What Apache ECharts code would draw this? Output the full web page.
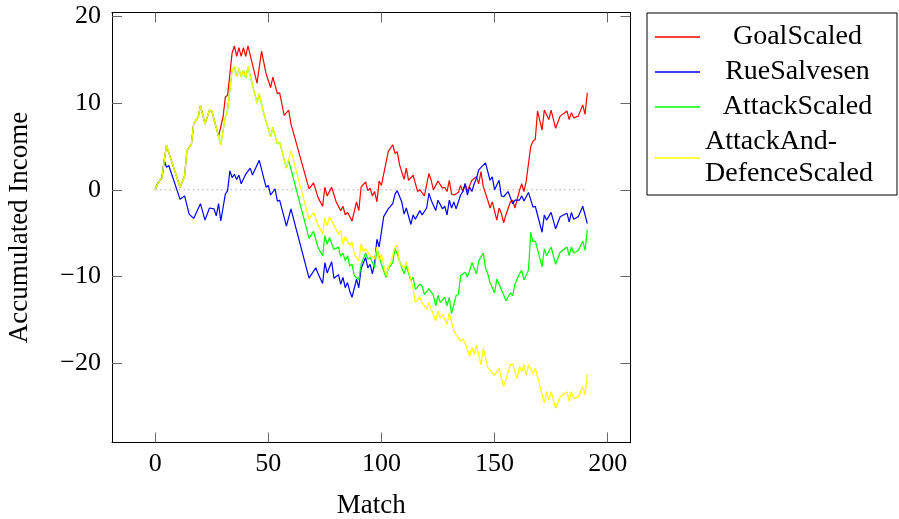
<!DOCTYPE html>
<html><head><meta charset="utf-8">
<script src="https://cdn.jsdelivr.net/npm/echarts@6/dist/echarts.min.js"></script>
<style>html,body{margin:0;padding:0;background:#fff}#c{width:899px;height:519px}</style>
</head><body><div id="c"></div>
<script>
// ---- data (match, accumulated income) ----
const seriesNames = ['GoalScaled', 'RueSalvesen', 'AttackScaled', 'AttackAndDefenceScaled'];
const seriesColors = ['#ff0000', '#0000ff', '#00ff00', '#ffff00'];

const goalScaled = [[0,0],[1,0.7],[3,1.4],[4,3.4],[5,5.1],[11,0.3],[13,1.6],[14,4.5],[16,5.3],[17,7.6],[19,8.4],[20,9.7],[22,7.6],[24,9.2],[25,9.1],[28,6.2],[30,8.4],[31,10.7],[32,10.9],[34,15.8],[35,16.6],[36,15.4],[37,16.4],[38,15.4],[39,16.4],[40,15.4],[41,16.6],[45,12.3],[47,16.0],[49,13.4],[51,11.8],[52,13.0],[54,11.1],[55,11.2],[57,8.6],[59,9.2],[60,7.6],[68,0.1],[70,0.8],[72,-0.9],[74,-1.9],[75,0.3],[76,-0.7],[78,0.3],[80,-1.4],[82,-2.4],[83,-1.9],[84,-2.9],[85,-2.6],[87,-3.6],[89,-1.4],[90,-2.4],[91,0.3],[93,0.9],[94,-0.1],[95,0.2],[96,-0.7],[97,-0.2],[98,-1.4],[99,1.0],[100,0.5],[102,3.1],[103,4.4],[105,5.2],[106,4.2],[107,4.4],[108,2.9],[110,1.2],[111,2.5],[112,1.1],[114,1.7],[116,-0.2],[117,0],[119,-0.7],[121,1.9],[122,1.1],[123,0],[125,1.0],[127,0.2],[128,0.3],[129,-0.2],[130,1.1],[131,-0.5],[132,-0.6],[134,-0.3],[135,0.5],[136,-0.2],[137,0.7],[138,-0.2],[139,0.5],[140,1.1],[142,1.5],[143,0.7],[144,2.1],[145,0.4],[147,-1.2],[148,-2.1],[149,-1.4],[151,-3.5],[152,-2.1],[153,-2.7],[154,-3.8],[155,-2.9],[157,-1.4],[158,-1.2],[159,-2.1],[161,-0.1],[162,0.7],[163,-0.2],[164,1.0],[166,5.0],[167,5.6],[168,5.8],[169,9.1],[171,6.9],[172,9.2],[174,8.1],[175,9.2],[177,7.1],[179,8.5],[182,9.1],[183,8.1],[184,8.9],[185,8.3],[187,8.5],[189,9.8],[190,8.7],[191,11.2]];

const rueSalvesen = [[0,0],[1,0.7],[3,1.4],[4,3.4],[5,2.6],[6,2.8],[11,-1.1],[13,-0.7],[15,-2.8],[17,-3.3],[20,-1.6],[22,-3.5],[24,-2.1],[26,-2.2],[27,-3.0],[28,-1.6],[29,-3.6],[31,-0.5],[32,-0.1],[33,2.2],[34,1.4],[35,1.8],[36,1.2],[37,1.7],[38,0.7],[40,1.8],[42,2.5],[43,1.7],[46,3.4],[49,0.3],[50,0.5],[51,-0.6],[53,0.1],[54,-1.3],[55,-1.2],[58,-4.2],[60,-2.2],[68,-10.2],[71,-9.0],[72,-9.7],[74,-10.8],[75,-8.4],[76,-9.6],[78,-8.3],[79,-10.2],[81,-9.8],[82,-10.9],[83,-10.1],[84,-11.3],[85,-10.7],[86,-11.7],[87,-12.4],[89,-10.3],[90,-11.3],[91,-9.1],[93,-7.8],[94,-9.0],[95,-8.6],[96,-9.7],[97,-8.4],[98,-5.7],[99,-6.6],[101,-3.1],[103,-2.2],[105,-1.6],[106,-0.5],[107,-0.1],[109,-1.4],[110,-2.8],[111,-2.1],[113,-4.0],[114,-2.9],[115,-3.4],[117,-2.4],[118,-2.9],[120,-2.1],[121,-0.4],[122,-1.2],[124,-2.4],[125,-1.2],[127,-2.2],[128,-1.9],[129,-2.9],[130,-1.2],[131,-2.1],[132,-1.4],[133,-2.2],[135,-0.6],[136,-0.2],[137,0.7],[138,-0.6],[139,0.3],[140,-0.2],[141,0.7],[142,1.3],[143,2.3],[146,3.1],[148,1.1],[149,1.5],[150,0],[152,1.1],[153,-0.7],[154,-0.8],[156,-0.2],[158,-1.6],[159,-1.2],[161,-1.2],[162,-0.7],[163,-1.3],[165,-0.3],[167,-2.0],[168,-1.9],[171,-4.9],[172,-2.9],[173,-3.5],[175,-2.6],[177,-4.5],[179,-3.1],[182,-2.7],[183,-3.7],[184,-2.6],[185,-3.4],[187,-3.1],[189,-1.9],[191,-3.9]];

const attackScaled = [[0,0],[1,0.7],[3,1.4],[4,3.4],[5,5.1],[11,0.3],[13,1.6],[14,4.5],[16,5.3],[17,7.6],[19,8.4],[20,9.7],[22,7.6],[24,9.2],[25,9.1],[29,5.2],[31,8.4],[32,9.2],[34,13.8],[35,14.2],[36,13.1],[37,14.0],[38,13.0],[39,13.8],[40,12.9],[41,14.2],[45,10.0],[46,11.1],[48,8.8],[51,6.1],[52,7.2],[54,5.3],[55,5.5],[58,2.5],[59,3.4],[68,-5.6],[70,-4.8],[72,-6.7],[74,-7.6],[75,-5.3],[76,-6.3],[77,-5.5],[79,-6.9],[81,-6.6],[82,-7.7],[83,-7.3],[84,-8.2],[85,-7.6],[86,-8.8],[87,-8.6],[88,-9.9],[90,-10.4],[91,-8.6],[93,-7.3],[94,-8.0],[95,-7.8],[96,-8.4],[97,-9.0],[98,-6.8],[100,-8.6],[102,-10.1],[103,-9.1],[105,-8.4],[106,-6.8],[107,-7.4],[109,-9.0],[110,-9.7],[111,-8.8],[113,-10.5],[114,-10.1],[115,-11.5],[117,-10.9],[118,-11.1],[119,-12.1],[121,-11.4],[123,-12.2],[124,-13.4],[125,-12.2],[126,-13.0],[128,-12.4],[129,-13.4],[130,-12.4],[131,-14.3],[133,-12.2],[134,-12.1],[135,-9.9],[137,-9.5],[138,-10.1],[139,-9.3],[140,-8.4],[142,-9.7],[143,-8.2],[145,-7.3],[146,-9.0],[147,-9.7],[148,-10.7],[150,-11.9],[151,-10.3],[153,-11.5],[154,-12.1],[155,-12.8],[157,-11.9],[158,-12.2],[159,-10.9],[161,-9.7],[162,-9.3],[163,-10.4],[165,-9.3],[166,-4.9],[167,-6.0],[168,-5.9],[171,-8.9],[172,-6.8],[173,-7.6],[175,-6.6],[177,-8.6],[179,-7.2],[182,-6.6],[183,-7.6],[184,-6.6],[185,-7.3],[187,-7.0],[189,-5.9],[190,-7.0],[191,-4.6]];

const attackAndDefenceScaled = [[0,0],[1,0.7],[3,1.4],[4,3.4],[5,5.1],[11,0.3],[13,1.6],[14,4.5],[16,5.3],[17,7.6],[19,8.4],[20,9.7],[22,7.6],[24,9.2],[25,9.1],[29,5.2],[31,8.4],[32,9.2],[34,13.8],[35,14.2],[36,13.1],[37,14.0],[38,13.0],[39,13.8],[40,12.9],[41,14.2],[45,10.0],[46,11.1],[48,8.8],[51,6.1],[52,7.2],[54,5.3],[55,5.5],[58,2.5],[59,3.5],[60,4.5],[68,-3.4],[70,-2.6],[72,-4.1],[74,-5.1],[75,-3.2],[76,-4.2],[77,-3.1],[81,-5.1],[82,-4.7],[83,-6.3],[84,-5.4],[85,-6.0],[86,-6.4],[87,-6.0],[88,-7.4],[90,-8.2],[91,-6.2],[92,-7.1],[93,-6.8],[95,-7.6],[96,-7.7],[97,-8.0],[98,-6.6],[99,-8.2],[100,-7.4],[102,-9.9],[103,-9.0],[104,-8.5],[106,-6.6],[107,-6.4],[108,-8.4],[110,-9.1],[111,-8.3],[113,-10.4],[114,-11.5],[115,-13.0],[117,-12.4],[118,-13.1],[119,-13.4],[120,-13.8],[121,-13.0],[122,-13.8],[124,-15.1],[125,-14.0],[126,-14.8],[127,-14.4],[129,-15.5],[130,-14.2],[132,-16.3],[133,-16.7],[135,-17.5],[136,-17.2],[137,-17.7],[139,-19.2],[140,-18.2],[141,-19.0],[142,-17.9],[144,-20.2],[145,-18.3],[147,-20.5],[148,-20.8],[150,-21.4],[152,-20.6],[154,-22.7],[155,-21.9],[157,-20.2],[158,-20.1],[160,-21.8],[161,-20.4],[162,-21.0],[163,-20.2],[164,-21.4],[165,-20.2],[167,-21.2],[168,-20.6],[172,-24.6],[173,-23.3],[174,-24.3],[175,-23.3],[177,-25.2],[179,-23.9],[182,-23.3],[183,-24.4],[184,-23.3],[185,-24.1],[187,-23.9],[189,-22.7],[190,-23.7],[191,-21.3]];

const zeroLine = [[0,0],[191,0]];
const xTicks = [0, 50, 100, 150, 200];
const yTicks = [-20, -10, 0, 10, 20];
const xRange = [-19.1, 210.1];
const yRange = [-29.16, 20.46];

// ---- chart ----
const FONT = 'Liberation Serif';
const fmtY = v => (v < 0 ? '\u2212' + Math.abs(v) : String(v));
const chart = echarts.init(document.getElementById('c'), null, {renderer: 'canvas'});

const axisLineStyle = {show: true, onZero: false, lineStyle: {color: '#000', width: 1}};
const tickStyle = (vals) => ({show: true, inside: true, length: 10, customValues: vals, lineStyle: {color: '#666', width: 1}});

const allData = [goalScaled, rueSalvesen, attackScaled, attackAndDefenceScaled];
const lineSeries = seriesNames.map((n, i) => ({
  name: n, type: 'line', data: allData[i], symbol: 'none', showSymbol: false,
  xAxisIndex: 0, yAxisIndex: 0, z: 3 + i,
  lineStyle: {color: seriesColors[i], width: 1.2}, itemStyle: {color: seriesColors[i]},
  emphasis: {disabled: true}
}));

chart.setOption({
  animation: false,
  backgroundColor: '#fff',
  grid: {left: 112, top: 12.5, width: 518.5, height: 430, containLabel: false, outerBoundsMode: 'none'},
  xAxis: [
    {type: 'value', position: 'bottom', min: xRange[0], max: xRange[1],
     axisLine: axisLineStyle, axisTick: tickStyle(xTicks), splitLine: {show: false},
     axisLabel: {customValues: xTicks, fontFamily: FONT, fontSize: 26, color: '#000', margin: 9},
     name: 'Match', nameLocation: 'middle', nameGap: 50,
     nameTextStyle: {fontFamily: FONT, fontSize: 27, color: '#000'}},
    {type: 'value', position: 'top', min: xRange[0], max: xRange[1],
     axisLine: axisLineStyle, axisTick: tickStyle(xTicks), splitLine: {show: false},
     axisLabel: {show: false}}
  ],
  yAxis: [
    {type: 'value', position: 'left', min: yRange[0], max: yRange[1],
     axisLine: axisLineStyle, axisTick: tickStyle(yTicks), splitLine: {show: false},
     axisLabel: {customValues: yTicks, formatter: fmtY, fontFamily: FONT, fontSize: 26, color: '#000', margin: 11},
     name: 'Accumulated Income', nameLocation: 'middle', nameGap: 79,
     nameTextStyle: {fontFamily: FONT, fontSize: 27, color: '#000'}},
    {type: 'value', position: 'right', min: yRange[0], max: yRange[1],
     axisLine: axisLineStyle, axisTick: tickStyle(yTicks), splitLine: {show: false},
     axisLabel: {show: false}}
  ],
  legend: {
    data: seriesNames.map((n, i) => ({name: n, icon: 'rect', itemStyle: {color: seriesColors[i]}})),
    orient: 'vertical', left: 647, top: 13,
    padding: [10, 7, 7, 8], itemGap: 7, itemWidth: 45, itemHeight: 1.3,
    borderColor: '#000', borderWidth: 1, backgroundColor: '#fff',
    selectedMode: false,
    textStyle: {fontFamily: FONT, fontSize: 28, color: '#000',
      rich: {
        c: {width: 185, align: 'center', lineHeight: 28, fontFamily: FONT, fontSize: 28, color: '#000'},
        l: {width: 185, align: 'left', lineHeight: 32, fontFamily: FONT, fontSize: 28, color: '#000'}
      }},
    formatter: n => n === 'AttackAndDefenceScaled' ? '{l|AttackAnd-}\n{l|DefenceScaled}' : '{c|' + n + '}'
  },
  series: [
    {name: 'zero', type: 'line', data: zeroLine, symbol: 'none', z: 2, silent: true,
     lineStyle: {color: '#aaa', width: 1, type: [1.5, 3.2]}, emphasis: {disabled: true}}
  ].concat(lineSeries)
});
</script>
</body></html>
